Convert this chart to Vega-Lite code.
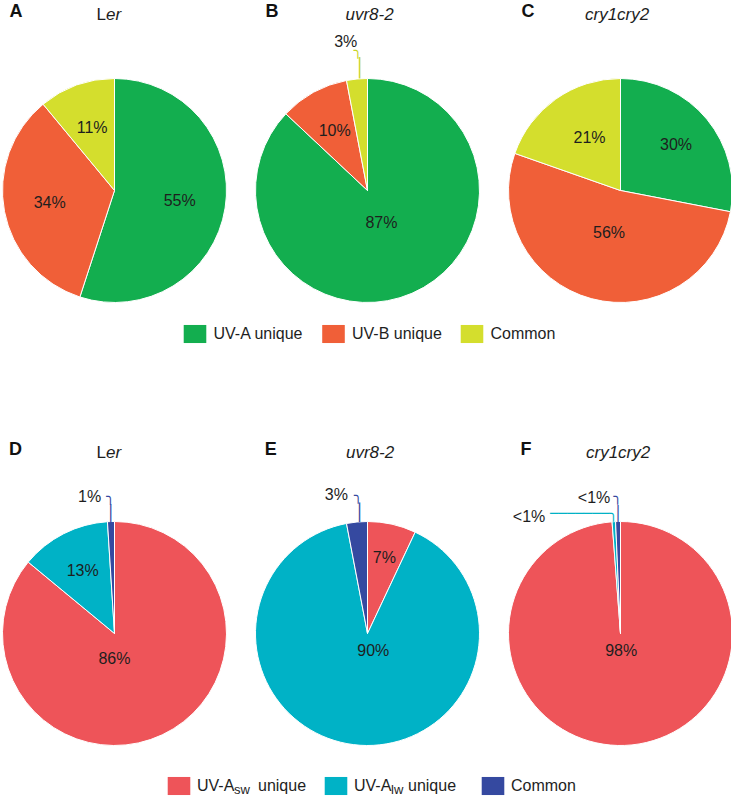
{
  "$schema": "https://vega.github.io/schema/vega-lite/v6.json",
  "padding": 0,
  "background": "white",
  "config": {
    "view": {"stroke": null},
    "text": {"font": "Liberation Sans", "fontSize": 16, "color": "#1e1e1e"}
  },
  "datasets": {
    "pie": [
      {"panel": "A", "cat": "UV-A unique", "o": 1, "value": 55, "label": "55%"},
      {"panel": "A", "cat": "UV-B unique", "o": 2, "value": 34, "label": "34%"},
      {"panel": "A", "cat": "Common", "o": 3, "value": 11, "label": "11%"},
      {"panel": "B", "cat": "UV-A unique", "o": 1, "value": 87, "label": "87%"},
      {"panel": "B", "cat": "UV-B unique", "o": 2, "value": 10, "label": "10%"},
      {"panel": "B", "cat": "Common", "o": 3, "value": 3, "label": "3%"},
      {"panel": "C", "cat": "UV-A unique", "o": 1, "value": 30, "label": "30%"},
      {"panel": "C", "cat": "UV-B unique", "o": 2, "value": 56, "label": "56%"},
      {"panel": "C", "cat": "Common", "o": 3, "value": 21, "label": "21%"},
      {"panel": "D", "cat": "UV-Asw unique", "o": 1, "value": 86, "label": "86%"},
      {"panel": "D", "cat": "UV-Alw unique", "o": 2, "value": 13, "label": "13%"},
      {"panel": "D", "cat": "Common", "o": 3, "value": 1, "label": "1%"},
      {"panel": "E", "cat": "UV-Asw unique", "o": 1, "value": 7, "label": "7%"},
      {"panel": "E", "cat": "UV-Alw unique", "o": 2, "value": 90, "label": "90%"},
      {"panel": "E", "cat": "Common", "o": 3, "value": 3, "label": "3%"},
      {"panel": "F", "cat": "UV-Asw unique", "o": 1, "value": 98.8, "label": "98%"},
      {"panel": "F", "cat": "UV-Alw unique", "o": 2, "value": 0.5, "label": "<1%"},
      {"panel": "F", "cat": "Common", "o": 3, "value": 0.7, "label": "<1%"}
    ],
    "title1": [
      {"p": "A", "letter": "A", "up": "L", "it": "er"},
      {"p": "B", "letter": "B", "up": "", "it": "uvr8-2"},
      {"p": "C", "letter": "C", "up": "", "it": "cry1cry2"}
    ],
    "title2": [
      {"p": "D", "letter": "D", "up": "L", "it": "er"},
      {"p": "E", "letter": "E", "up": "", "it": "uvr8-2"},
      {"p": "F", "letter": "F", "up": "", "it": "cry1cry2"}
    ],
    "legend1": [
      {"cat": "UV-A unique"},
      {"cat": "UV-B unique"},
      {"cat": "Common"}
    ],
    "legend2": [
      {"cat": "UV-Asw unique", "main": "UV-A", "sub": "sw", "rest": "unique"},
      {"cat": "UV-Alw unique", "main": "UV-A", "sub": "lw", "rest": "unique"},
      {"cat": "Common", "main": "Common", "sub": "", "rest": ""}
    ]
  },
  "resolve": {"scale": {"color": "independent", "theta": "independent"}},
  "spacing": 94,
  "vconcat": [
    {
      "spacing": 10,
      "resolve": {"scale": {"color": "independent", "theta": "independent"}},
      "vconcat": [
        {
          "width": 731, "height": 24,
          "data": {"name": "title1"},
          "resolve": {"scale": {"x": "independent"}},
          "layer": [
            {"mark": {"type": "text", "fontWeight": "bold", "fontSize": 18, "align": "center", "color": "#111"},
             "encoding": {"x": {"field": "p", "type": "nominal", "sort": null, "scale": {"type": "point", "range": [14, 526], "padding": 0}, "axis": null},
                          "text": {"field": "letter"}}},
            {"mark": {"type": "text", "fontSize": 17, "align": "right", "dy": 2.5},
             "encoding": {"x": {"field": "p", "type": "nominal", "sort": null, "scale": {"type": "point", "range": [104, 583], "padding": 0}, "axis": null},
                          "text": {"field": "up"}}},
            {"mark": {"type": "text", "fontSize": 17, "align": "left", "fontStyle": "italic", "dy": 2.5},
             "encoding": {"x": {"field": "p", "type": "nominal", "sort": null, "scale": {"type": "point", "range": [104, 583], "padding": 0}, "axis": null},
                          "text": {"field": "it"}}}
          ]
        },
        {
          "spacing": 19,
          "resolve": {"scale": {"color": "independent", "theta": "independent"}},
          "vconcat": [
            {
              "spacing": 28,
              "bounds": "flush",
              "resolve": {"scale": {"color": "independent", "theta": "independent"}},
              "hconcat": [
                {
                  "width": 225, "height": 225,
                  "data": {"name": "pie"},
                  "transform": [{"filter": "datum.panel === 'A'"}],
                  "encoding": {
                    "theta": {"field": "value", "type": "quantitative", "stack": true},
                    "order": {"field": "o", "type": "quantitative"},
                    "detail": {"field": "cat", "type": "nominal"}
                  },
                  "layer": [
                    {"mark": {"type": "arc", "outerRadius": 112, "stroke": "white", "strokeWidth": 1},
                     "encoding": {"color": {"field": "cat", "type": "nominal", "scale": {"domain": ["UV-A unique", "UV-B unique", "Common"], "range": ["#13AE4F", "#F05F38", "#D4DE2D"]}, "legend": null}}},
                    {"mark": {"type": "text", "radius": 66},
                     "encoding": {"text": {"field": "label"}}}
                  ]
                },
                {
                  "width": 225, "height": 225,
                  "data": {"name": "pie"},
                  "transform": [{"filter": "datum.panel === 'B'"}],
                  "encoding": {
                    "theta": {"field": "value", "type": "quantitative", "stack": true},
                    "order": {"field": "o", "type": "quantitative"},
                    "detail": {"field": "cat", "type": "nominal"}
                  },
                  "layer": [
                    {"mark": {"type": "arc", "outerRadius": 112, "stroke": "white", "strokeWidth": 1},
                     "encoding": {"color": {"field": "cat", "type": "nominal", "scale": {"domain": ["UV-A unique", "UV-B unique", "Common"], "range": ["#13AE4F", "#F05F38", "#D4DE2D"]}, "legend": null}}},
                    {"mark": {"type": "text", "radius": 35},
                     "encoding": {"text": {"condition": {"test": "datum.cat === 'UV-A unique'", "field": "label"}, "value": ""}}},
                    {"mark": {"type": "text", "radius": 68},
                     "encoding": {"text": {"condition": {"test": "datum.cat === 'UV-B unique'", "field": "label"}, "value": ""}}},
                    {"mark": {"type": "text", "radius": 100, "font": "DejaVu Sans Mono", "fontSize": 18, "color": "#C9D42A", "dx": 1.5, "dy": -21.6},
                     "encoding": {"text": {"condition": {"test": "datum.cat === 'Common'", "value": "│"}, "value": ""}}},
                    {"mark": {"type": "text", "radius": 100, "font": "DejaVu Sans Mono", "fontSize": 14, "color": "#C9D42A", "dx": -0.3, "dy": -39.8},
                     "encoding": {"text": {"condition": {"test": "datum.cat === 'Common'", "value": "╮"}, "value": ""}}},
                    {"mark": {"type": "text", "radius": 100, "align": "right", "dx": -0.8, "dy": -48.8},
                     "encoding": {"text": {"condition": {"test": "datum.cat === 'Common'", "field": "label"}, "value": ""}}}
                  ]
                },
                {
                  "width": 225, "height": 225,
                  "data": {"name": "pie"},
                  "transform": [{"filter": "datum.panel === 'C'"}],
                  "encoding": {
                    "theta": {"field": "value", "type": "quantitative", "stack": true},
                    "order": {"field": "o", "type": "quantitative"},
                    "detail": {"field": "cat", "type": "nominal"}
                  },
                  "layer": [
                    {"mark": {"type": "arc", "outerRadius": 112, "stroke": "white", "strokeWidth": 1},
                     "encoding": {"color": {"field": "cat", "type": "nominal", "scale": {"domain": ["UV-A unique", "UV-B unique", "Common"], "range": ["#13AE4F", "#F05F38", "#D4DE2D"]}, "legend": null}}},
                    {"mark": {"type": "text", "radius": 72},
                     "encoding": {"text": {"condition": {"test": "datum.cat === 'UV-A unique'", "field": "label"}, "value": ""}}},
                    {"mark": {"type": "text", "radius": 44},
                     "encoding": {"text": {"condition": {"test": "datum.cat === 'UV-B unique'", "field": "label"}, "value": ""}}},
                    {"mark": {"type": "text", "radius": 64, "dx": 6},
                     "encoding": {"text": {"condition": {"test": "datum.cat === 'Common'", "field": "label"}, "value": ""}}}
                  ]
                }
              ]
            },
            {
              "width": 731, "height": 20,
              "data": {"name": "legend1"},
              "encoding": {"x": {"field": "cat", "type": "nominal", "sort": null, "scale": {"type": "point", "range": [193, 470], "padding": 0}, "axis": null}},
              "layer": [
                {"mark": {"type": "point", "shape": "M-1,-0.8H1V0.8H-1Z", "size": 510, "filled": true, "opacity": 1, "strokeWidth": 0},
                 "encoding": {"color": {"field": "cat", "type": "nominal", "scale": {"domain": ["UV-A unique", "UV-B unique", "Common"], "range": ["#13AE4F", "#F05F38", "#D4DE2D"]}, "legend": null}}},
                {"mark": {"type": "text", "align": "left", "dx": 18.5},
                 "encoding": {"text": {"field": "cat"}}}
              ]
            }
          ]
        }
      ]
    },
    {
      "spacing": 24,
      "resolve": {"scale": {"color": "independent", "theta": "independent"}},
      "vconcat": [
        {
          "width": 731, "height": 24,
          "data": {"name": "title2"},
          "resolve": {"scale": {"x": "independent"}},
          "layer": [
            {"mark": {"type": "text", "fontWeight": "bold", "fontSize": 18, "align": "center", "color": "#111"},
             "encoding": {"x": {"field": "p", "type": "nominal", "sort": null, "scale": {"type": "point", "range": [13.5, 524], "padding": 0}, "axis": null},
                          "text": {"field": "letter"}}},
            {"mark": {"type": "text", "fontSize": 17, "align": "right", "dy": 2.5},
             "encoding": {"x": {"field": "p", "type": "nominal", "sort": null, "scale": {"type": "point", "range": [104, 584], "padding": 0}, "axis": null},
                          "text": {"field": "up"}}},
            {"mark": {"type": "text", "fontSize": 17, "align": "left", "fontStyle": "italic", "dy": 2.5},
             "encoding": {"x": {"field": "p", "type": "nominal", "sort": null, "scale": {"type": "point", "range": [104, 584], "padding": 0}, "axis": null},
                          "text": {"field": "it"}}}
          ]
        },
        {
          "spacing": 28,
          "resolve": {"scale": {"color": "independent", "theta": "independent"}},
          "vconcat": [
            {
              "spacing": 28,
              "bounds": "flush",
              "resolve": {"scale": {"color": "independent", "theta": "independent"}},
              "hconcat": [
                {
                  "width": 225, "height": 225,
                  "data": {"name": "pie"},
                  "transform": [{"filter": "datum.panel === 'D'"}],
                  "encoding": {
                    "theta": {"field": "value", "type": "quantitative", "stack": true},
                    "order": {"field": "o", "type": "quantitative"},
                    "detail": {"field": "cat", "type": "nominal"}
                  },
                  "layer": [
                    {"mark": {"type": "arc", "outerRadius": 112, "stroke": "white", "strokeWidth": 1},
                     "encoding": {"color": {"field": "cat", "type": "nominal", "scale": {"domain": ["UV-Asw unique", "UV-Alw unique", "Common"], "range": ["#EE5459", "#00B2C6", "#3549A0"]}, "legend": null}}},
                    {"mark": {"type": "text", "radius": 28, "dx": -12},
                     "encoding": {"text": {"condition": {"test": "datum.cat === 'UV-Asw unique'", "field": "label"}, "value": ""}}},
                    {"mark": {"type": "text", "radius": 70},
                     "encoding": {"text": {"condition": {"test": "datum.cat === 'UV-Alw unique'", "field": "label"}, "value": ""}}},
                    {"mark": {"type": "text", "radius": 100, "font": "DejaVu Sans Mono", "fontSize": 16, "color": "#3549A0", "dx": -0.6, "dy": -19.5},
                     "encoding": {"text": {"condition": {"test": "datum.cat === 'Common'", "value": "│"}, "value": ""}}},
                    {"mark": {"type": "text", "radius": 100, "font": "DejaVu Sans Mono", "fontSize": 14, "color": "#3549A0", "dx": -1.2, "dy": -37},
                     "encoding": {"text": {"condition": {"test": "datum.cat === 'Common'", "value": "╮"}, "value": ""}}},
                    {"mark": {"type": "text", "radius": 100, "align": "right", "dx": -10.2, "dy": -37},
                     "encoding": {"text": {"condition": {"test": "datum.cat === 'Common'", "field": "label"}, "value": ""}}}
                  ]
                },
                {
                  "width": 225, "height": 225,
                  "data": {"name": "pie"},
                  "transform": [{"filter": "datum.panel === 'E'"}],
                  "encoding": {
                    "theta": {"field": "value", "type": "quantitative", "stack": true},
                    "order": {"field": "o", "type": "quantitative"},
                    "detail": {"field": "cat", "type": "nominal"}
                  },
                  "layer": [
                    {"mark": {"type": "arc", "outerRadius": 112, "stroke": "white", "strokeWidth": 1},
                     "encoding": {"color": {"field": "cat", "type": "nominal", "scale": {"domain": ["UV-Asw unique", "UV-Alw unique", "Common"], "range": ["#EE5459", "#00B2C6", "#3549A0"]}, "legend": null}}},
                    {"mark": {"type": "text", "radius": 77},
                     "encoding": {"text": {"condition": {"test": "datum.cat === 'UV-Asw unique'", "field": "label"}, "value": ""}}},
                    {"mark": {"type": "text", "radius": 18, "dx": 8},
                     "encoding": {"text": {"condition": {"test": "datum.cat === 'UV-Alw unique'", "field": "label"}, "value": ""}}},
                    {"mark": {"type": "text", "radius": 100, "font": "DejaVu Sans Mono", "fontSize": 16.5, "color": "#3549A0", "dx": 1.6, "dy": -20.5},
                     "encoding": {"text": {"condition": {"test": "datum.cat === 'Common'", "value": "│"}, "value": ""}}},
                    {"mark": {"type": "text", "radius": 100, "font": "DejaVu Sans Mono", "fontSize": 14, "color": "#3549A0", "dx": -0.1, "dy": -38.3},
                     "encoding": {"text": {"condition": {"test": "datum.cat === 'Common'", "value": "╮"}, "value": ""}}},
                    {"mark": {"type": "text", "radius": 100, "align": "right", "dx": -10.1, "dy": -39.3},
                     "encoding": {"text": {"condition": {"test": "datum.cat === 'Common'", "field": "label"}, "value": ""}}}
                  ]
                },
                {
                  "width": 225, "height": 225,
                  "data": {"name": "pie"},
                  "transform": [{"filter": "datum.panel === 'F'"}],
                  "encoding": {
                    "theta": {"field": "value", "type": "quantitative", "stack": true},
                    "order": {"field": "o", "type": "quantitative"},
                    "detail": {"field": "cat", "type": "nominal"}
                  },
                  "layer": [
                    {"mark": {"type": "arc", "outerRadius": 112, "stroke": "white", "strokeWidth": 1},
                     "encoding": {"color": {"field": "cat", "type": "nominal", "scale": {"domain": ["UV-Asw unique", "UV-Alw unique", "Common"], "range": ["#EE5459", "#00B2C6", "#3549A0"]}, "legend": null}}},
                    {"mark": {"type": "text", "radius": 18},
                     "encoding": {"text": {"condition": {"test": "datum.cat === 'UV-Asw unique'", "field": "label"}, "value": ""}}},
                    {"mark": {"type": "text", "radius": 100, "font": "DejaVu Sans Mono", "fontSize": 14, "color": "#00B2C6", "align": "right", "dx": 3.0, "dy": -20.1},
                     "encoding": {"text": {"condition": {"test": "datum.cat === 'UV-Alw unique'", "value": "───────╮"}, "value": ""}}},
                    {"mark": {"type": "text", "radius": 100, "align": "right", "dx": -69.2, "dy": -16.6},
                     "encoding": {"text": {"condition": {"test": "datum.cat === 'UV-Alw unique'", "field": "label"}, "value": ""}}},
                    {"mark": {"type": "text", "radius": 100, "font": "DejaVu Sans Mono", "fontSize": 15, "color": "#3549A0", "dx": -0.4, "dy": -19.5},
                     "encoding": {"text": {"condition": {"test": "datum.cat === 'Common'", "value": "│"}, "value": ""}}},
                    {"mark": {"type": "text", "radius": 100, "font": "DejaVu Sans Mono", "fontSize": 14, "color": "#3549A0", "dx": -0.8, "dy": -36.4},
                     "encoding": {"text": {"condition": {"test": "datum.cat === 'Common'", "value": "╮"}, "value": ""}}},
                    {"mark": {"type": "text", "radius": 100, "align": "right", "dx": -8.0, "dy": -35.4},
                     "encoding": {"text": {"condition": {"test": "datum.cat === 'Common'", "field": "label"}, "value": ""}}}
                  ]
                }
              ]
            },
            {
              "width": 731, "height": 20,
              "data": {"name": "legend2"},
              "encoding": {"x": {"field": "cat", "type": "nominal", "sort": null, "scale": {"type": "point", "range": [177, 491], "padding": 0}, "axis": null}},
              "layer": [
                {"mark": {"type": "point", "shape": "M-1,-0.8H1V0.8H-1Z", "size": 510, "filled": true, "opacity": 1, "strokeWidth": 0},
                 "encoding": {"color": {"field": "cat", "type": "nominal", "scale": {"domain": ["UV-Asw unique", "UV-Alw unique", "Common"], "range": ["#EE5459", "#00B2C6", "#3549A0"]}, "legend": null}}},
                {"mark": {"type": "text", "align": "left", "dx": 18},
                 "encoding": {"text": {"field": "main"}}},
                {"mark": {"type": "text", "align": "left", "dx": 55, "dy": 4, "fontSize": 13},
                 "encoding": {"text": {"field": "sub"}}},
                {"mark": {"type": "text", "align": "left", "dx": 79},
                 "encoding": {"text": {"condition": {"test": "datum.sub === 'sw'", "field": "rest"}, "value": ""}}},
                {"mark": {"type": "text", "align": "left", "dx": 72},
                 "encoding": {"text": {"condition": {"test": "datum.sub === 'lw'", "field": "rest"}, "value": ""}}}
              ]
            }
          ]
        }
      ]
    }
  ]
}
